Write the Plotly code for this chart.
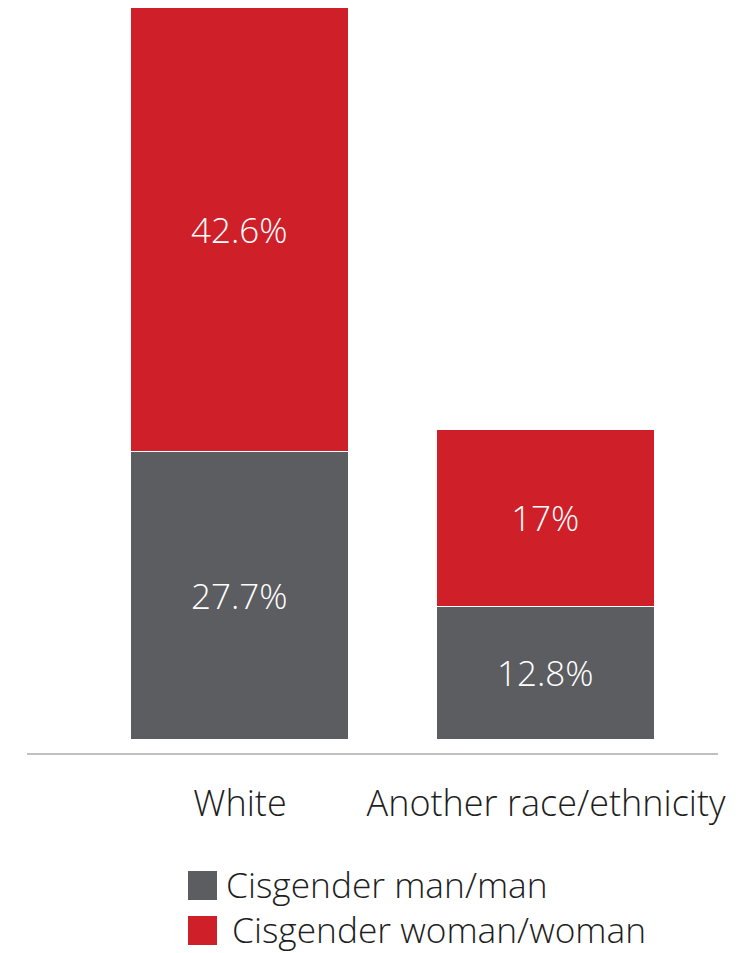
import plotly.graph_objects as go

categories = ["White", "Another race/ethnicity"]
series_names = ["Cisgender man/man", "Cisgender woman/woman"]
men_values = [27.7, 12.8]
women_values = [42.6, 17.0]
men_labels = ["27.7%", "12.8%"]
women_labels = ["42.6%", "17%"]

GRAY = "#5C5D60"
RED = "#CF202A"
FONT = "Open Sans"
WT = 300
TXT = "#1E1E1E"

W, H = 748, 953
L, R, T, B = 27, 30, 8, 200
pw, ph = W - L - R, H - T - B

fig = go.Figure()
for name, vals, labels, color in [
    (series_names[0], men_values, men_labels, GRAY),
    (series_names[1], women_values, women_labels, RED),
]:
    fig.add_trace(go.Bar(
        x=list(range(len(categories))), y=vals, name=name,
        text=labels, texttemplate="%{text}", textposition="inside",
        insidetextanchor="middle",
        textfont=dict(color="white", size=35, family=FONT, weight=WT),
        marker=dict(color=color, line=dict(color="white", width=1.5)),
        width=0.715, showlegend=False,
    ))

# manual legend (large square swatches)
def px_x(x):
    return (x - L) / pw

def px_y(y):
    return (H - B - y) / ph

legend_items = [(series_names[0], GRAY, 871, 225), (series_names[1], RED, 916, 231)]
for name, color, top, tx in legend_items:
    fig.add_shape(type="rect", xref="paper", yref="paper",
                  x0=px_x(188), x1=px_x(217), y0=px_y(top + 29), y1=px_y(top),
                  fillcolor=color, line=dict(width=0))
    fig.add_annotation(xref="paper", yref="paper", x=px_x(tx), y=px_y(top + 13),
                       text=name, showarrow=False, xanchor="left", yanchor="middle",
                       borderpad=0,
                       font=dict(size=35.3, family=FONT, color=TXT, weight=WT))

fig.update_layout(
    barmode="stack", bargap=0,
    width=W, height=H,
    margin=dict(l=L, r=R, t=T, b=B, pad=0),
    paper_bgcolor="white", plot_bgcolor="white",
    font=dict(family=FONT, color=TXT, weight=WT),
    showlegend=False,
    xaxis=dict(
        tickmode="array", tickvals=list(range(len(categories))), ticktext=categories,
        range=[-0.696, 1.562], showline=True, linecolor="#C0C0C0", linewidth=2,
        ticks="outside", ticklen=18, tickcolor="rgba(0,0,0,0)",
        tickfont=dict(size=36, family=FONT, color=TXT, weight=WT),
        showgrid=False, zeroline=False, fixedrange=True,
    ),
    yaxis=dict(range=[-1.25, 70.3], visible=False, showgrid=False, zeroline=False),
)

fig.write_html("out.html", config={"displayModeBar": False},
               post_script="document.body.style.margin='0';document.body.style.padding='0';")
